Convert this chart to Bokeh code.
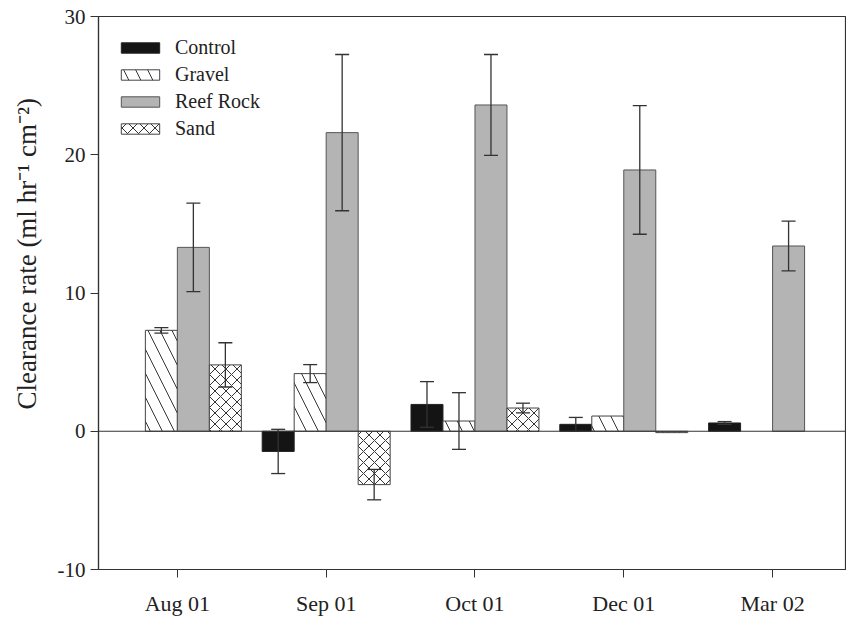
import math
from bokeh.plotting import figure
from bokeh.models import (ColumnDataSource, Whisker, TeeHead, Span, FixedTicker,
                          Legend, LegendItem, Range1d, Title)
from bokeh.embed import file_html
from bokeh.resources import INLINE

# ---- data ----
months = ["Aug 01", "Sep 01", "Oct 01", "Dec 01", "Mar 02"]
series_names = ["Control", "Gravel", "Reef Rock", "Sand"]
control = [None, -1.46, 1.94, 0.5, 0.6]
control_err = [None, 1.6, 1.65, 0.5, 0.1]
gravel = [7.3, 4.17, 0.74, 1.1, None]
gravel_err = [0.2, 0.65, 2.05, None, None]
reef = [13.3, 21.6, 23.6, 18.9, 13.4]
reef_err = [3.2, 5.65, 3.65, 4.65, 1.8]
sand = [4.8, -3.86, 1.68, -0.1, None]
sand_err = [1.6, 1.1, 0.35, None, None]
y_ticks = [-10, 0, 10, 20, 30]
y_label = "Clearance rate (ml hr\u207b\u00b9 cm\u207b\u00b2)"

FONT = "Liberation Serif"
ANNO_FONT = "Times New Roman"
BAR_W = 0.215

p = figure(width=846, height=618, x_range=Range1d(-0.53, 4.49), y_range=Range1d(-10, 30),
           output_backend="svg", toolbar_location=None,
           min_border_left=97, min_border_right=1, min_border_top=16, min_border_bottom=46)

p.xgrid.visible = False
p.ygrid.visible = False
p.outline_line_color = "#333333"
p.outline_line_width = 1.2

styles = [
    dict(fill_color="#141414", line_color="#222222"),
    dict(fill_color="white", line_color="#444444", hatch_pattern="left_diagonal_line",
         hatch_color="#333333", hatch_scale=24, hatch_weight=1),
    dict(fill_color="#b4b4b4", line_color="#555555"),
    dict(fill_color="white", line_color="#444444", hatch_pattern="diagonal_cross",
         hatch_color="#333333", hatch_scale=11, hatch_weight=1),
]
data = [(control, control_err), (gravel, gravel_err), (reef, reef_err), (sand, sand_err)]
offsets = [-1.5, -0.5, 0.5, 1.5]

items = []
for name, (vals, errs), off, st in zip(series_names, data, offsets, styles):
    xs = [i + off * BAR_W for i, v in enumerate(vals) if v is not None]
    tops = [v for v in vals if v is not None]
    src = ColumnDataSource(dict(x=xs, top=tops))
    r = p.vbar(x="x", top="top", bottom=0, width=BAR_W, source=src, line_width=1, **st)
    items.append(LegendItem(label=name, renderers=[r]))
    ex, eu, el = [], [], []
    for i, (v, e) in enumerate(zip(vals, errs)):
        if v is None or e is None:
            continue
        ex.append(i + off * BAR_W)
        eu.append(v + e)
        el.append(v - e)
    esrc = ColumnDataSource(dict(x=ex, upper=eu, lower=el))
    w = Whisker(source=esrc, base="x", upper="upper", lower="lower", dimension="height",
                line_color="#333333", line_width=1.3, level="annotation",
                upper_head=TeeHead(size=14, line_color="#333333", line_width=1.3),
                lower_head=TeeHead(size=14, line_color="#333333", line_width=1.3))
    p.add_layout(w)

p.add_layout(Span(location=0, dimension="width", line_color="#333333", line_width=1.2))

legend = Legend(items=items, location="top_left", border_line_color=None,
                background_fill_alpha=0, margin=18, padding=0, spacing=0,
                label_height=27, glyph_width=48, glyph_height=13, label_standoff=11,
                label_text_font="serif", label_text_font_size="20px",
                label_text_font_style="normal", label_text_color="#222222")
p.add_layout(legend)

# axes
p.xaxis.ticker = FixedTicker(ticks=list(range(len(months))))
p.xaxis.major_label_overrides = {i: m for i, m in enumerate(months)}
p.yaxis.ticker = FixedTicker(ticks=y_ticks)
p.yaxis.major_label_overrides = {t: str(t) for t in y_ticks}
for ax in (p.xaxis[0], p.yaxis[0]):
    ax.minor_tick_line_color = None
    ax.major_tick_in = 0
    ax.major_tick_out = 8
    ax.axis_line_color = "#333333"
    ax.axis_line_width = 1.2
    ax.major_tick_line_color = "#333333"
    ax.major_label_text_font = FONT
    ax.major_label_text_color = "#222222"
p.xaxis.major_label_text_font_size = "22px"
p.xaxis.major_label_standoff = 13
p.yaxis.major_label_text_font_size = "21px"
p.yaxis.major_label_standoff = 5

p.add_layout(Title(text=y_label, align="left", offset=160, standoff=22,
                   vertical_align="top",
                   text_font=ANNO_FONT, text_font_size="27px",
                   text_font_style="normal", text_color="#222222"), "left")

open("out.html", "w").write(file_html(p, INLINE))
